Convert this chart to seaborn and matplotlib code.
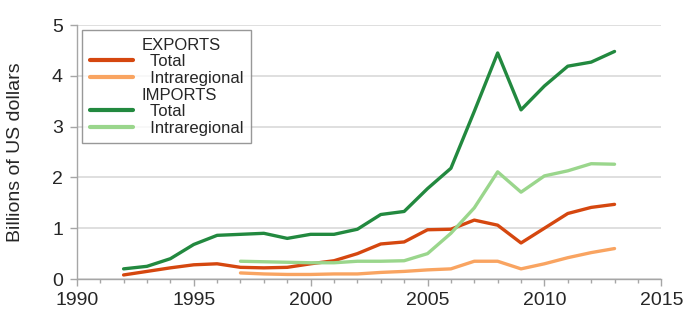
import matplotlib
matplotlib.use('Agg')
import matplotlib.pyplot as plt
from matplotlib.lines import Line2D
from matplotlib.ticker import MultipleLocator
import pandas as pd
import seaborn as sns

# values (billions of US dollars)
years_all = list(range(1992, 2014))
years_intra = list(range(1997, 2014))

exports_total = [0.08, 0.15, 0.22, 0.28, 0.30, 0.23, 0.22, 0.23, 0.30, 0.36, 0.50,
                 0.69, 0.73, 0.97, 0.98, 1.16, 1.06, 0.71, 1.00, 1.29, 1.41, 1.47]
exports_intra = [0.12, 0.10, 0.09, 0.09, 0.10, 0.10, 0.13, 0.15, 0.18, 0.20,
                 0.35, 0.35, 0.20, 0.30, 0.42, 0.52, 0.60]
imports_total = [0.20, 0.25, 0.40, 0.68, 0.86, 0.88, 0.90, 0.80, 0.88, 0.88, 0.98,
                 1.27, 1.33, 1.78, 2.18, 3.30, 4.45, 3.33, 3.80, 4.19, 4.27, 4.48]
imports_intra = [0.35, 0.34, 0.33, 0.32, 0.32, 0.35, 0.35, 0.36, 0.50, 0.90,
                 1.40, 2.11, 1.71, 2.03, 2.13, 2.27, 2.26]

series_names = ['Exports total', 'Exports intraregional', 'Imports total', 'Imports intraregional']
colors = ['#D5470F', '#F9A461', '#22893F', '#9AD68C']

frames = [
    pd.DataFrame({'year': years_all, 'value': exports_total, 'series': series_names[0]}),
    pd.DataFrame({'year': years_intra, 'value': exports_intra, 'series': series_names[1]}),
    pd.DataFrame({'year': years_all, 'value': imports_total, 'series': series_names[2]}),
    pd.DataFrame({'year': years_intra, 'value': imports_intra, 'series': series_names[3]}),
]
df = pd.concat(frames, ignore_index=True)

sns.set_style('white')
plt.rcParams['font.family'] = ['Liberation Sans', 'DejaVu Sans']

fig, ax = plt.subplots(figsize=(6.86, 3.09), dpi=100)
fig.subplots_adjust(left=0.112, right=0.964, bottom=0.097, top=0.919)

sns.lineplot(data=df, x='year', y='value', hue='series', hue_order=series_names,
             palette=colors, linewidth=2.4, legend=False, ax=ax)

ax.set_xlim(1990, 2015)
ax.set_ylim(0, 5)
ax.xaxis.set_major_locator(MultipleLocator(5))
ax.xaxis.set_minor_locator(MultipleLocator(1))
ax.yaxis.set_major_locator(MultipleLocator(1))
ax.grid(axis='y', color='#D9D9D9', linewidth=1.2)
ax.set_axisbelow(True)

for s in ['top', 'right']:
    ax.spines[s].set_visible(False)
for s in ['left', 'bottom']:
    ax.spines[s].set_color('#A6A6A6')
    ax.spines[s].set_linewidth(1.0)

ax.tick_params(axis='both', which='major', direction='out', length=5, width=1,
               color='#A6A6A6', labelsize=14)
ax.tick_params(axis='x', which='major', pad=4, bottom=True)
ax.tick_params(axis='y', which='major', pad=5, left=True)
ax.tick_params(axis='x', which='minor', direction='out', length=3, width=1,
               color='#A6A6A6', bottom=True)

ax.set_xlabel('')
ax.set_ylabel('Billions of US dollars', fontsize=14, labelpad=20)

# legend with group headers
blank = Line2D([], [], color='none')
handles = [blank,
           Line2D([], [], color=colors[0], lw=3),
           Line2D([], [], color=colors[1], lw=3),
           blank,
           Line2D([], [], color=colors[2], lw=3),
           Line2D([], [], color=colors[3], lw=3)]
labels = ['EXPORTS', '  Total', '  Intraregional', 'IMPORTS', '  Total', '  Intraregional']
leg = ax.legend(handles, labels, loc='upper left', bbox_to_anchor=(0.009, 0.98),
                borderaxespad=0, fontsize=12, frameon=True, fancybox=False,
                handlelength=2.6, handletextpad=0.5, labelspacing=0.1, borderpad=0.45)
leg.get_frame().set_edgecolor('#7F7F7F')
leg.get_frame().set_linewidth(1.0)

fig.savefig('out.png', dpi=100)
